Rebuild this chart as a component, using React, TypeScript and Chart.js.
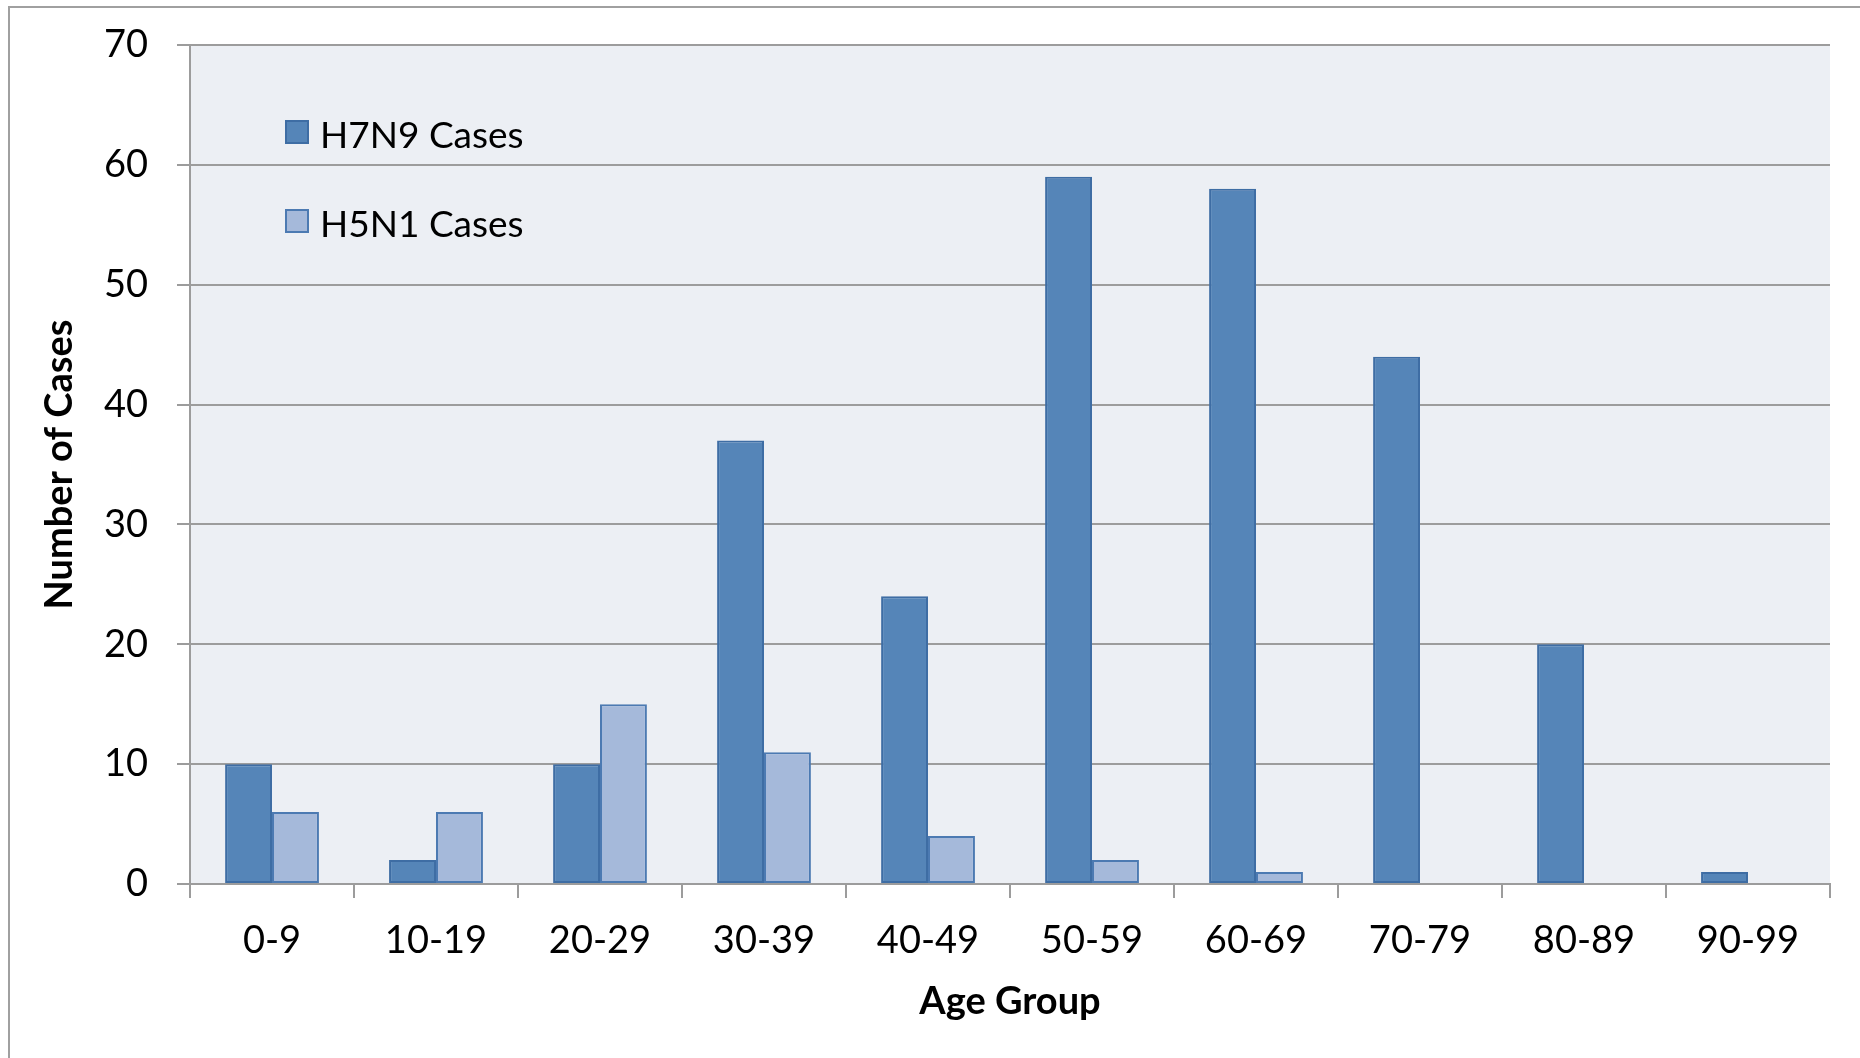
import React, { useEffect, useRef } from "react";
import { Chart, registerables } from "chart.js";

Chart.register(...registerables);

const categories = ["0-9", "10-19", "20-29", "30-39", "40-49", "50-59", "60-69", "70-79", "80-89", "90-99"];
const h7n9Cases = [10, 2, 10, 37, 24, 59, 58, 44, 20, 1];
const h5n1Cases = [6, 6, 15, 11, 4, 2, 1, 0, 0, 0];
const seriesLabels = ["H7N9 Cases", "H5N1 Cases"];
const yTitle = "Number of Cases";
const xTitle = "Age Group";

const FONT = "Lato, 'Open Sans', sans-serif";
const GRID = "#9c9c9c";

const plotBg = {
  id: "plotBg",
  beforeDraw(chart: any) {
    const { ctx, chartArea } = chart;
    ctx.save();
    ctx.fillStyle = "#eceff4";
    ctx.fillRect(chartArea.left, chartArea.top, chartArea.right - chartArea.left, chartArea.bottom - chartArea.top);
    ctx.strokeStyle = "#a0a0a0";
    ctx.lineWidth = 2;
    ctx.beginPath();
    ctx.moveTo(9, chart.height + 5);
    ctx.lineTo(9, 7);
    ctx.lineTo(chart.width + 5, 7);
    ctx.stroke();
    ctx.restore();
  },
};

const insideLegend = {
  id: "insideLegend",
  afterDatasetsDraw(chart: any) {
    const { ctx } = chart;
    ctx.save();
    const rows = [132, 221];
    chart.data.datasets.forEach((ds: any, i: number) => {
      const cy = rows[i];
      const size = 24;
      ctx.fillStyle = ds.backgroundColor;
      ctx.fillRect(285, cy - size / 2, size, size);
      ctx.strokeStyle = ds.borderColor;
      ctx.lineWidth = 2;
      ctx.strokeRect(286, cy - size / 2 + 1, size - 2, size - 2);
      ctx.fillStyle = "#000";
      ctx.font = `37px ${FONT}`;
      ctx.textBaseline = "middle";
      ctx.textAlign = "left";
      ctx.fillText(ds.label, 320, cy + 4);
    });
    ctx.restore();
  },
};

export default function App() {
  const ref = useRef<HTMLCanvasElement>(null);
  useEffect(() => {
    document.body.style.margin = "0";
    const chart = new Chart(ref.current as HTMLCanvasElement, {
      type: "bar",
      data: {
        labels: categories,
        datasets: [
          {
            label: seriesLabels[0],
            data: h7n9Cases,
            backgroundColor: "#5585b8",
            borderColor: "#3e6da4",
            borderWidth: 2,
            borderSkipped: false,
          },
          {
            label: seriesLabels[1],
            data: h5n1Cases,
            backgroundColor: "#a5b9da",
            borderColor: "#4c7ab2",
            borderWidth: 2,
            borderSkipped: false,
          },
        ],
      },
      options: {
        animation: false,
        responsive: false,
        maintainAspectRatio: false,
        devicePixelRatio: 1,
        layout: { padding: { left: 0, top: 45, right: 30, bottom: 0 } },
        datasets: { bar: { categoryPercentage: 0.572, barPercentage: 1 } },
        plugins: { legend: { display: false }, tooltip: { enabled: false } },
        scales: {
          x: {
            grid: { offset: true, drawOnChartArea: false, drawTicks: true, tickLength: 14, color: GRID, lineWidth: 2 },
            border: { color: GRID, width: 2 },
            ticks: { color: "#000", font: { family: FONT, size: 38 }, padding: 20, maxRotation: 0 },
            title: { display: true, text: xTitle, color: "#000", font: { family: FONT, size: 38, weight: "bold" }, padding: { top: 0, bottom: 33 } },
            afterFit: (s: any) => { s.height = 174; },
          },
          y: {
            min: 0,
            max: 70,
            grid: { color: GRID, lineWidth: 2, tickLength: 13, drawTicks: true },
            border: { color: GRID, width: 2 },
            ticks: { stepSize: 10, color: "#000", font: { family: FONT, size: 38 }, padding: 29 },
            title: { display: true, text: yTitle, color: "#000", font: { family: FONT, size: 38, weight: "bold" }, padding: { top: 37, bottom: 0 } },
            afterFit: (s: any) => { s.width = 190; s.paddingTop = 20; s.paddingBottom = 0; },
          },
        },
      },
      plugins: [plotBg, insideLegend],
    });
    return () => chart.destroy();
  }, []);
  return (
    <div style={{ position: "absolute", left: 0, top: 0, width: 1860, height: 1058, background: "#fff" }}>
      <canvas ref={ref} width={1860} height={1058} style={{ width: 1860, height: 1058, display: "block" }} />
    </div>
  );
}
